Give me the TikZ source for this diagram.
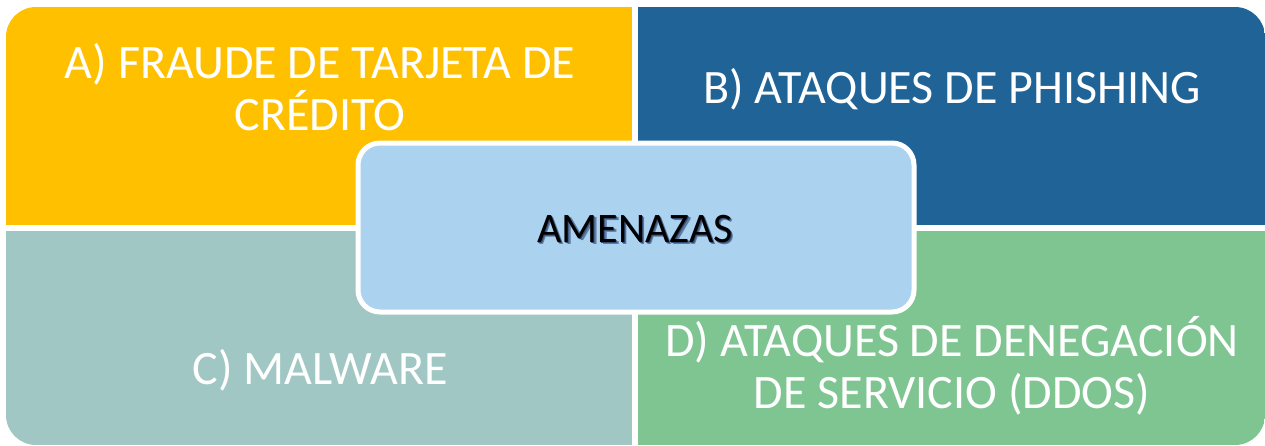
\documentclass[tikz,border=0pt]{standalone}
\usepackage{fontspec}
\setmainfont{Carlito}
\definecolor{qyellow}{HTML}{FFC000}
\definecolor{qblue}{HTML}{1F6397}
\definecolor{qteal}{HTML}{A0C7C3}
\definecolor{qgreen}{HTML}{7FC592}
\definecolor{cblue}{HTML}{ABD2EE}
\definecolor{shadowblue}{HTML}{1F3864}
\newcommand{\shadowtext}[1]{\makebox[0pt][l]{\hspace{2.5pt}\raisebox{-2.5pt}{\textcolor{shadowblue!55!cblue}{#1}}}\makebox[0pt][l]{\hspace{1.2pt}\raisebox{-1.2pt}{\textcolor{shadowblue!85!cblue}{#1}}}#1}
\tikzset{
  quad/.style={rectangle, inner sep=0pt, outer sep=0pt},
  qtext/.style={text=white, inner sep=0pt, anchor=base, font=\fontsize{48}{53}\selectfont},
  ctext/.style={inner sep=0pt, anchor=base, font=\fontsize{42}{48}\selectfont},
  centerbox/.style={rectangle, rounded corners=22pt, draw=white, line width=5pt, fill=cblue, inner sep=0pt}
}
\begin{document}
\begin{tikzpicture}[x=1pt,y=-1pt]
\useasboundingbox (0,0) rectangle (1265,445);
\begin{scope}
  \clip[rounded corners=30pt] (6,7) rectangle (1265,445);
  \node[quad, fill=qyellow, minimum width=626pt, minimum height=218pt] (qa) at (319,116) {};
  \node[quad, fill=qblue, minimum width=627pt, minimum height=218pt] (qb) at (951.5,116) {};
  \node[quad, fill=qteal, minimum width=626pt, minimum height=214pt] (qc) at (319,338) {};
  \node[quad, fill=qgreen, minimum width=627pt, minimum height=214pt] (qd) at (951.5,338) {};
\end{scope}
\node[qtext] (ta1) at (320,78) {A) FRAUDE DE TARJETA DE};
\node[qtext] (ta2) at (320,130) {CRÉDITO};
\node[qtext] (tb) at (952,103) {B) ATAQUES DE PHISHING};
\node[qtext] (tc) at (320,384) {C) MALWARE};
\node[qtext] (td1) at (952,356) {D) ATAQUES DE DENEGACIÓN};
\node[qtext] (td2) at (952,408) {DE SERVICIO (DDOS)};
\node[centerbox, minimum width=556pt, minimum height=169pt] (cbox) at (636,227.5) {};
\node[ctext, text=black] (tcenter) at (635,242) {\shadowtext{AMENAZAS}};
\end{tikzpicture}
\end{document}
